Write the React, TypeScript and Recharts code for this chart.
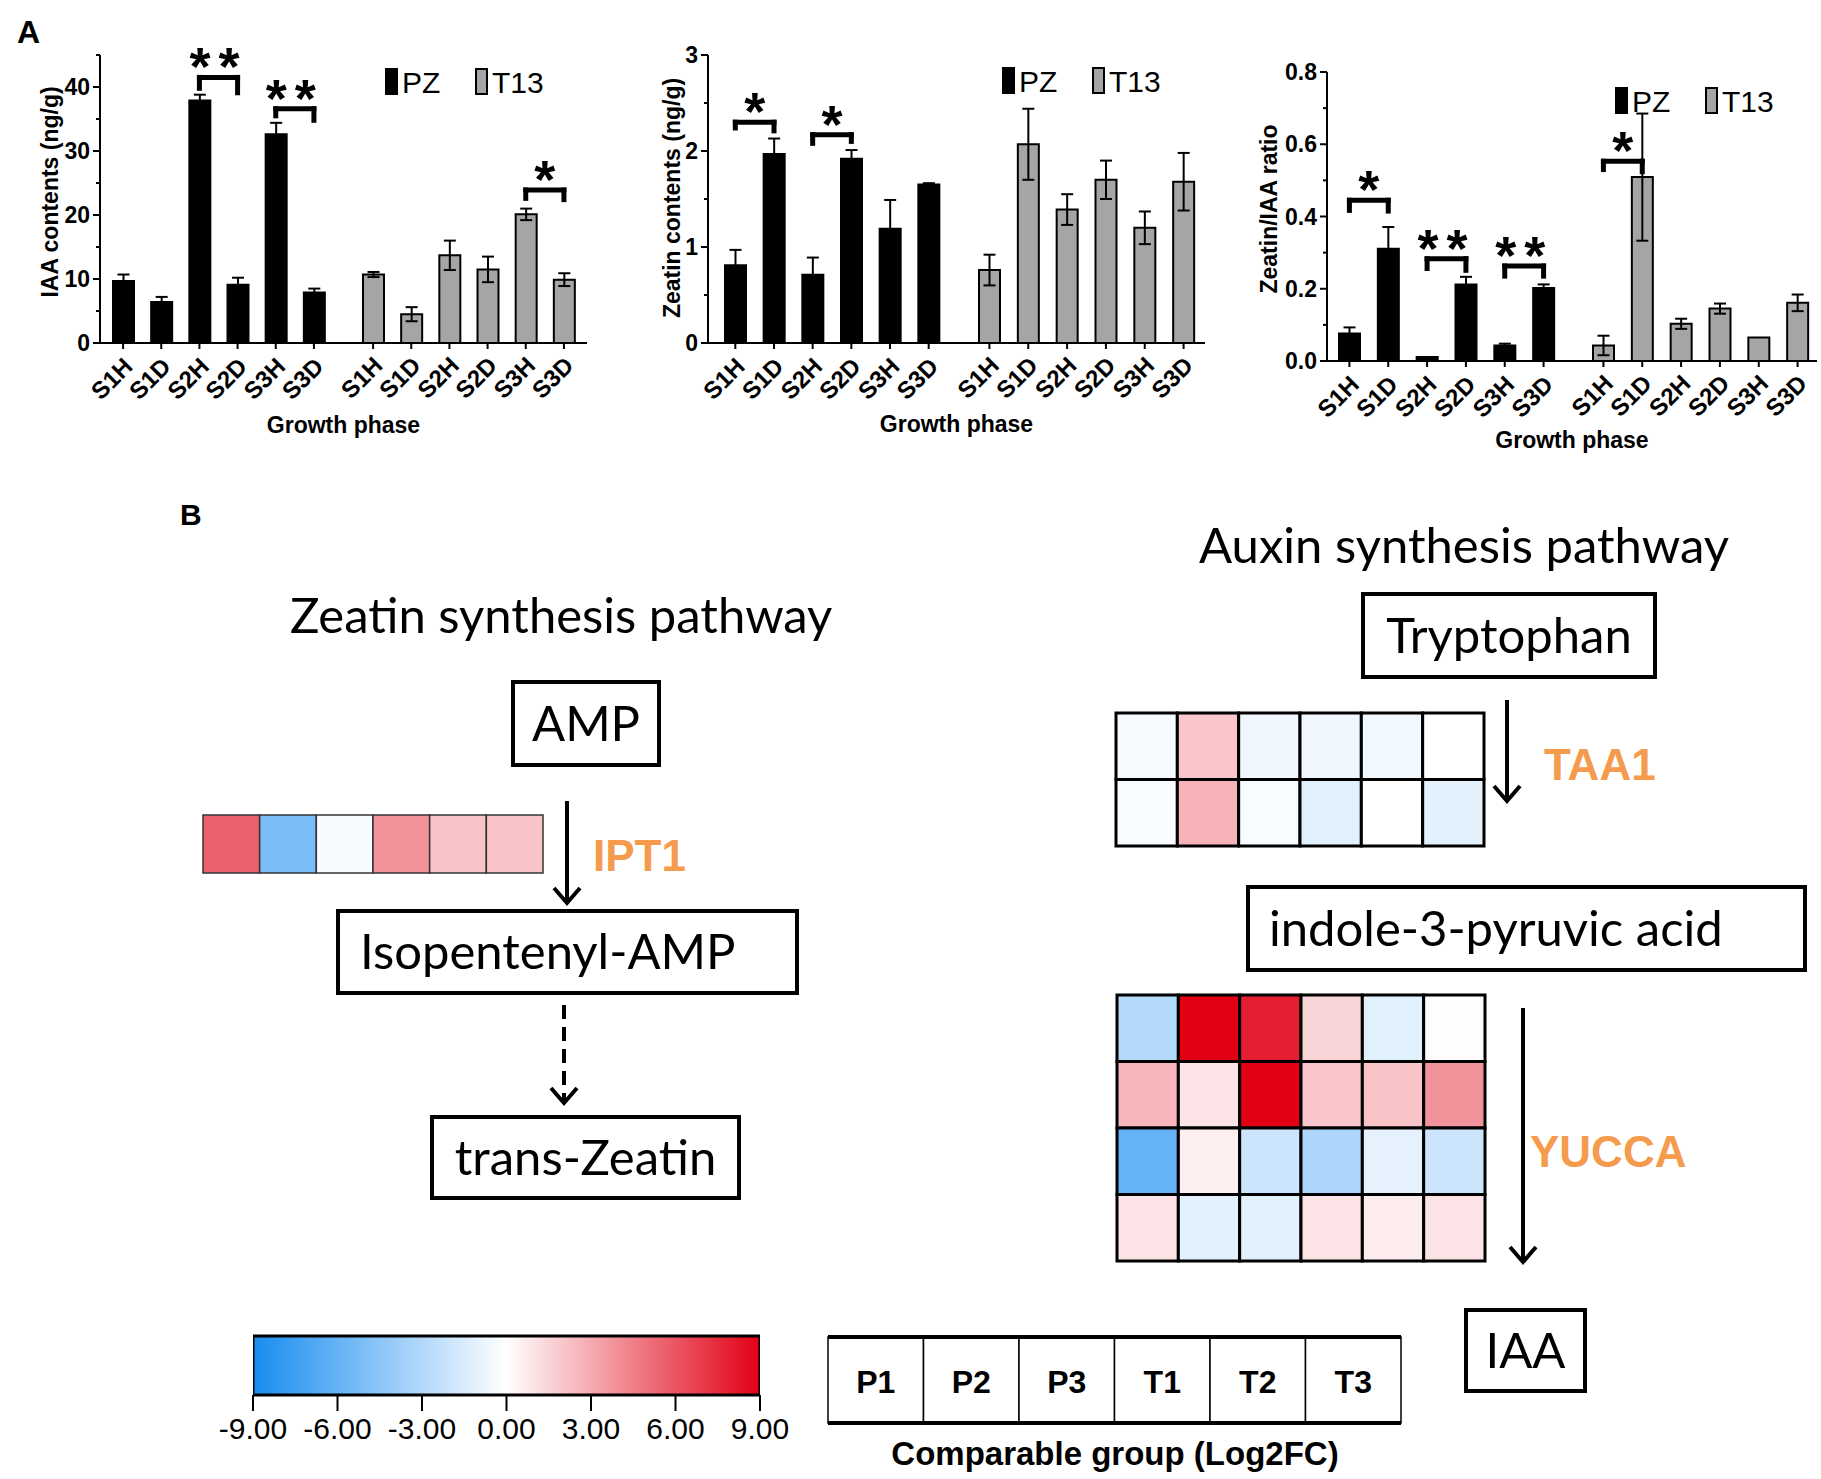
import React from 'react';
import {
  BarChart, Bar, XAxis, YAxis, ErrorBar, ReferenceLine, Legend,
  ScatterChart, Scatter,
} from 'recharts';

const FONT = "'Liberation Sans', Arial, Helvetica, sans-serif";
const PATH_FONT = "Lato, 'Open Sans', 'Noto Sans', sans-serif";
const GRAY = '#a5a5a7';
const ORANGE = '#f59b4d';

// panel A data
const stages = ['S1H', 'S1D', 'S2H', 'S2D', 'S3H', 'S3D'];

const iaaPZ = [9.7, 6.4, 37.9, 9.1, 32.6, 7.9];
const iaaPZErr = [1.0, 0.8, 0.9, 1.1, 1.8, 0.6];
const iaaT13 = [10.7, 4.5, 13.7, 11.5, 20.1, 9.9];
const iaaT13Err = [0.4, 1.1, 2.3, 2.0, 0.9, 1.0];

const zeaPZ = [0.81, 1.97, 0.71, 1.92, 1.19, 1.65];
const zeaPZErr = [0.16, 0.16, 0.18, 0.09, 0.3, 0.015];
const zeaT13 = [0.76, 2.07, 1.39, 1.7, 1.2, 1.68];
const zeaT13Err = [0.16, 0.37, 0.16, 0.2, 0.17, 0.3];

const ratioPZ = [0.076, 0.311, 0.011, 0.212, 0.043, 0.202];
const ratioPZErr = [0.017, 0.06, 0, 0.021, 0.005, 0.01];
const ratioT13 = [0.043, 0.509, 0.103, 0.145, 0.065, 0.161];
const ratioT13Err = [0.027, 0.176, 0.014, 0.014, 0, 0.023];

const iaaTicks = [0, 5, 10, 15, 20, 25, 30, 35, 40, 45];
const zeaTicks = [0, 0.5, 1, 1.5, 2, 2.5, 3];
const ratioTicks = [0, 0.1, 0.2, 0.3, 0.4, 0.5, 0.6, 0.7, 0.8];

type Bracket = { group: string; from: string; to: string; y: number; yl: number; yr: number; mark: string };

const iaaBrackets: Bracket[] = [
  { group: 'pz', from: 'S2H', to: 'S2D', y: 41.5, yl: 39.8, yr: 39.1, mark: '**' },
  { group: 'pz', from: 'S3H', to: 'S3D', y: 36.6, yl: 35.5, yr: 34.8, mark: '**' },
  { group: 't13', from: 'S3H', to: 'S3D', y: 23.9, yl: 22.6, yr: 22.4, mark: '*' },
];
const zeaBrackets: Bracket[] = [
  { group: 'pz', from: 'S1H', to: 'S1D', y: 2.3, yl: 2.24, yr: 2.21, mark: '*' },
  { group: 'pz', from: 'S2H', to: 'S2D', y: 2.17, yl: 2.08, yr: 2.1, mark: '*' },
];
const ratioBrackets: Bracket[] = [
  { group: 'pz', from: 'S1H', to: 'S1D', y: 0.445, yl: 0.417, yr: 0.415, mark: '*' },
  { group: 'pz', from: 'S2H', to: 'S2D', y: 0.283, yl: 0.256, yr: 0.251, mark: '**' },
  { group: 'pz', from: 'S3H', to: 'S3D', y: 0.263, yl: 0.235, yr: 0.235, mark: '**' },
  { group: 't13', from: 'S1H', to: 'S1D', y: 0.553, yl: 0.53, yr: 0.524, mark: '*' },
];

// panel B data (log2FC)
const groups = ['P1', 'P2', 'P3', 'T1', 'T2', 'T3'];
const ipt1 = [[5.6, -5.2, -0.3, 3.8, 2.1, 2.1]];
const taa1 = [
  [-0.4, 2.0, -0.6, -0.6, -0.5, 0],
  [-0.25, 2.7, -0.25, -1.2, 0, -1.1],
];
const yucca = [
  [-3.0, 9.0, 7.9, 1.5, -1.2, 0.1],
  [2.6, 1.0, 9.0, 2.0, 2.1, 3.8],
  [-6.0, 0.6, -2.0, -3.2, -1.0, -2.0],
  [1.0, -1.1, -1.1, 0.95, 0.65, 0.95],
];
const colorTicks = [-9, -6, -3, 0, 3, 6, 9];

const BLUE = [24, 140, 240];
const RED = [225, 0, 20];
const heatColor = (v: number) => {
  const t = Math.min(Math.abs(v) / 9, 1);
  const c = v < 0 ? BLUE : RED;
  const ch = c.map((k) => Math.round(255 + (k - 255) * t));
  return `rgb(${ch[0]},${ch[1]},${ch[2]})`;
};

const YTick = (props: any) => {
  const { y, payload, axisX, isMajor, fmt } = props;
  const major = isMajor(payload.value);
  return (
    <g>
      <line x1={axisX - (major ? 7 : 4)} x2={axisX} y1={y} y2={y} stroke="#000" strokeWidth={2} />
      {major && (
        <text x={axisX - 10} y={y} dy={8} textAnchor="end" fontFamily={FONT} fontSize={23} fontWeight={700} fill="#000">
          {fmt(payload.value)}
        </text>
      )}
    </g>
  );
};

const XTick = (props: any) => {
  const { x, y, payload, shift = 0 } = props;
  const tx = x + 11;
  const ty = y + 17 + shift;
  return (
    <text x={tx} y={ty} transform={`rotate(-45 ${tx} ${ty})`} textAnchor="end" fontFamily={FONT} fontSize={24} fontWeight={700} fill="#000">
      {payload.value}
    </text>
  );
};

const renderLegend = (props: any) => (
  <div style={{ position: 'relative', width: 200, height: 30 }}>
    {(props.payload || []).map((e: any, i: number) => (
      <div key={e.value} style={{ position: 'absolute', left: i * 90, top: 0, display: 'flex', alignItems: 'flex-start' }}>
        <div style={{ width: 13, height: 27, background: e.color, border: '2px solid #000', boxSizing: 'border-box' }} />
        <span style={{ marginLeft: 4, fontFamily: FONT, fontSize: 30, lineHeight: '30px', color: '#000' }}>{e.value}</span>
      </div>
    ))}
  </div>
);

type ChartProps = {
  left: number; top: number; width: number; height: number;
  margin: { top: number; right: number; bottom: number; left: number };
  yWidth: number; domain: [number, number]; ticks: number[];
  isMajor: (v: number) => boolean; fmt: (v: number) => string;
  pz: number[]; pzErr: number[]; t13: number[]; t13Err: number[];
  pzPad: [number, number]; t13Pad: [number, number];
  brackets: Bracket[]; yLabel: string; yLabelAt: [number, number];
  legendAt: [number, number]; xLabelOffset: number;
};

const HormoneChart = (p: ChartProps) => {
  const data = stages.map((s, i) => ({ stage: s, pz: p.pz[i], pzErr: p.pzErr[i], t13: p.t13[i], t13Err: p.t13Err[i] }));
  const axisLine = { stroke: '#000', strokeWidth: 2 };
  const starLabel = (mark: string) => ({
    value: mark, position: 'top', offset: -8, fontFamily: FONT, fontSize: 54, fontWeight: 700, fill: '#000',
    letterSpacing: mark.length > 1 ? 8 : 0,
  });
  return (
    <div style={{ position: 'absolute', left: p.left, top: p.top }}>
      <BarChart width={p.width} height={p.height} data={data} margin={p.margin}>
        <XAxis xAxisId="pz" dataKey="stage" type="category" height={1} interval={0}
          padding={{ left: p.pzPad[0], right: p.pzPad[1] }} axisLine={axisLine}
          tickLine={{ stroke: '#000', strokeWidth: 2 }} tickSize={6} tick={<XTick />} />
        <XAxis xAxisId="t13" dataKey="stage" type="category" height={1} interval={0}
          padding={{ left: p.t13Pad[0], right: p.t13Pad[1] }} axisLine={false}
          tickLine={{ stroke: '#000', strokeWidth: 2 }} tickSize={5} tick={<XTick shift={-1} />}
          label={{ value: 'Growth phase', position: 'bottom', offset: p.xLabelOffset, fontFamily: FONT, fontSize: 23, fontWeight: 700, fill: '#000' }} />
        <YAxis width={p.yWidth} domain={p.domain} ticks={p.ticks} interval={0} tickLine={false} axisLine={axisLine}
          allowDataOverflow
          tick={(tp: any) => <YTick {...tp} axisX={p.margin.left + p.yWidth} isMajor={p.isMajor} fmt={p.fmt} />}
          label={() => (
            <text x={p.yLabelAt[0]} y={p.yLabelAt[1]} transform={`rotate(-90 ${p.yLabelAt[0]} ${p.yLabelAt[1]})`}
              textAnchor="middle" dy={8} fontFamily={FONT} fontSize={23} fontWeight={700} fill="#000">
              {p.yLabel}
            </text>
          )} />
        <Legend layout="vertical" align="center" verticalAlign="middle" content={renderLegend}
          wrapperStyle={{ left: p.legendAt[0], top: p.legendAt[1], width: 200 }} />
        <Bar xAxisId="pz" dataKey="pz" name="PZ" fill="#000" stroke="#000" strokeWidth={2} barSize={21} isAnimationActive={false}>
          <ErrorBar dataKey="pzErr" width={6} stroke="#000" strokeWidth={2} />
        </Bar>
        <Bar xAxisId="t13" dataKey="t13" name="T13" fill={GRAY} stroke="#000" strokeWidth={2} barSize={21} isAnimationActive={false}>
          <ErrorBar dataKey="t13Err" width={6} stroke="#000" strokeWidth={2} />
        </Bar>
        {p.brackets.map((b, i) => [
          <ReferenceLine key={`h${i}`} xAxisId={b.group} segment={[{ x: b.from, y: b.y }, { x: b.to, y: b.y }]}
            stroke="#000" strokeWidth={5} strokeLinecap="square" label={starLabel(b.mark) as any} />,
          <ReferenceLine key={`l${i}`} xAxisId={b.group} segment={[{ x: b.from, y: b.y }, { x: b.from, y: b.yl }]}
            stroke="#000" strokeWidth={5} strokeLinecap="square" />,
          <ReferenceLine key={`r${i}`} xAxisId={b.group} segment={[{ x: b.to, y: b.y }, { x: b.to, y: b.yr }]}
            stroke="#000" strokeWidth={5} strokeLinecap="square" />,
        ])}
      </BarChart>
    </div>
  );
};

type HeatProps = { left: number; top: number; width: number; height: number; values: number[][]; stroke: string; strokeWidth: number };

const HeatMap = ({ left, top, width, height, values, stroke, strokeWidth }: HeatProps) => {
  const rows = values.map((_, i) => `r${i}`);
  const data = values.flatMap((r, i) => r.map((v, j) => ({ col: groups[j], row: rows[i], v })));
  const cw = width / groups.length;
  const ch = height / rows.length;
  const pad = 3;
  return (
    <div style={{ position: 'absolute', left: left - pad, top: top - pad }}>
      <ScatterChart width={width + 2 * pad} height={height + 2 * pad} margin={{ top: pad, right: pad, bottom: pad, left: pad }}>
        <XAxis type="category" dataKey="col" hide allowDuplicatedCategory={false} />
        <YAxis type="category" dataKey="row" hide allowDuplicatedCategory={false} reversed />
        <Scatter data={data} isAnimationActive={false}
          shape={(sp: any) => (
            <rect x={sp.cx - cw / 2} y={sp.cy - ch / 2} width={cw} height={ch}
              fill={heatColor(sp.payload.v)} stroke={stroke} strokeWidth={strokeWidth} />
          )} />
      </ScatterChart>
    </div>
  );
};

const colorRange = [{ k: 'log2FC', range: [colorTicks[0], colorTicks[colorTicks.length - 1]] }];

const ColorBar = () => (
  <div style={{ position: 'absolute', left: 203, top: 1332 }}>
    <BarChart layout="vertical" width={607} height={123} data={colorRange} barCategoryGap={0}
      margin={{ top: 4, right: 50, bottom: 0, left: 50 }}>
      <XAxis type="number" domain={[-9, 9]} ticks={colorTicks} interval={0} height={60} allowDataOverflow
        axisLine={false} tickSize={16} tickMargin={7} tickLine={{ stroke: '#000', strokeWidth: 2 }}
        tickFormatter={(v: number) => v.toFixed(2)} tick={{ fontSize: 30, fill: '#000', fontFamily: FONT }} />
      <YAxis type="category" dataKey="k" hide />
      <Bar dataKey="range" fill="url(#cbar)" stroke="#000" strokeWidth={3} isAnimationActive={false} />
    </BarChart>
  </div>
);

const boxes = [
  { label: 'AMP', x: 511, y: 680, w: 150, h: 87, pad: 0 },
  { label: 'Isopentenyl-AMP', x: 336, y: 909, w: 463, h: 86, pad: 24 },
  { label: 'trans-Zeatin', x: 430, y: 1115, w: 311, h: 85, pad: 0 },
  { label: 'Tryptophan', x: 1361, y: 592, w: 296, h: 87, pad: 0 },
  { label: 'indole-3-pyruvic acid', x: 1246, y: 885, w: 561, h: 87, pad: 23 },
  { label: 'IAA', x: 1464, y: 1308, w: 123, h: 85, pad: 0 },
];

const Arrow = ({ x, y1, y2, dashed }: { x: number; y1: number; y2: number; dashed?: boolean }) => (
  <g stroke="#000" strokeWidth={4} fill="none">
    <line x1={x} x2={x} y1={y1} y2={y2 - 2} strokeDasharray={dashed ? '14 8' : undefined} />
    <polyline points={`${x - 13},${y2 - 15} ${x},${y2} ${x + 13},${y2 - 15}`} />
  </g>
);

const CELL = 95.5;

const Overlay = () => (
  <svg width={1821} height={1479} style={{ position: 'absolute', left: 0, top: 0 }}>
    <defs>
      <linearGradient id="cbar" x1="0" x2="1" y1="0" y2="0">
        <stop offset="0%" stopColor={heatColor(-9)} />
        <stop offset="50%" stopColor="#ffffff" />
        <stop offset="100%" stopColor={heatColor(9)} />
      </linearGradient>
    </defs>
    <text x={17} y={43} fontFamily={FONT} fontWeight={700} fontSize={32}>A</text>
    <text x={180} y={525} fontFamily={FONT} fontWeight={700} fontSize={30}>B</text>
    <text x={290} y={633} fontFamily={PATH_FONT} fontSize={49} fill="#000">Zeatin synthesis pathway</text>
    <text x={1199} y={563} fontFamily={PATH_FONT} fontSize={49} fill="#000">Auxin synthesis pathway</text>
    {boxes.map((b) => (
      <g key={b.label}>
        <rect x={b.x + 2} y={b.y + 2} width={b.w - 4} height={b.h - 4} fill="none" stroke="#000" strokeWidth={4} />
        <text x={b.pad ? b.x + b.pad : b.x + b.w / 2} y={b.y + b.h / 2 + 17} textAnchor={b.pad ? 'start' : 'middle'}
          fontFamily={PATH_FONT} fontSize={49} fill="#000">{b.label}</text>
      </g>
    ))}
    <Arrow x={567} y1={801} y2={903} />
    <Arrow x={564} y1={1005} y2={1103} dashed />
    <Arrow x={1507} y1={700} y2={801} />
    <Arrow x={1523} y1={1008} y2={1262} />
    <text x={593} y={871} fontFamily={FONT} fontWeight={700} fontSize={44} fill={ORANGE}>IPT1</text>
    <text x={1544} y={780} fontFamily={FONT} fontWeight={700} fontSize={44} fill={ORANGE}>TAA1</text>
    <text x={1530} y={1167} fontFamily={FONT} fontWeight={700} fontSize={44} fill={ORANGE}>YUCCA</text>
    <g>
      {groups.map((g, i) => (
        <g key={g}>
          <rect x={828 + i * CELL} y={1337} width={CELL} height={86} fill="#fff" stroke="#000" strokeWidth={1.5} />
          <text x={828 + i * CELL + CELL / 2} y={1393} textAnchor="middle" fontFamily={FONT} fontWeight={700} fontSize={32}>{g}</text>
        </g>
      ))}
      <line x1={828} x2={828 + 6 * CELL} y1={1337} y2={1337} stroke="#000" strokeWidth={4} />
      <line x1={828} x2={828 + 6 * CELL} y1={1423} y2={1423} stroke="#000" strokeWidth={4} />
    </g>
    <text x={1115} y={1465} textAnchor="middle" fontFamily={FONT} fontWeight={700} fontSize={33}>Comparable group (Log2FC)</text>
  </svg>
);

export default function App() {
  return (
    <div style={{ position: 'absolute', left: 0, top: 0, width: 1821, height: 1479, background: '#fff', overflow: 'hidden' }}>
      <Overlay />
      <HormoneChart left={0} top={0} width={600} height={450} margin={{ top: 55, right: 13, bottom: 105, left: 0 }}
        yWidth={100} domain={[0, 45]} ticks={iaaTicks} isMajor={(v) => v % 10 === 0} fmt={(v) => String(v)}
        pz={iaaPZ} pzErr={iaaPZErr} t13={iaaT13} t13Err={iaaT13Err} pzPad={[4, 254]} t13Pad={[254, 4]}
        brackets={iaaBrackets} yLabel="IAA contents (ng/g)" yLabelAt={[50, 192]} legendAt={[385, 68]} xLabelOffset={72} />
      <HormoneChart left={610} top={0} width={610} height={450} margin={{ top: 55, right: 15, bottom: 105, left: 0 }}
        yWidth={98} domain={[0, 3]} ticks={zeaTicks} isMajor={(v) => Number.isInteger(v)} fmt={(v) => String(v)}
        pz={zeaPZ} pzErr={zeaPZErr} t13={zeaT13} t13Err={zeaT13Err} pzPad={[8, 257]} t13Pad={[262, 2]}
        brackets={zeaBrackets} yLabel="Zeatin contents (ng/g)" yLabelAt={[62, 198]} legendAt={[392, 67]} xLabelOffset={71} />
      <HormoneChart left={1225} top={0} width={596} height={470} margin={{ top: 72, right: 4, bottom: 107, left: 0 }}
        yWidth={102} domain={[0, 0.8]} ticks={ratioTicks} isMajor={(v) => Math.round(v * 10) % 2 === 0} fmt={(v) => v.toFixed(1)}
        pz={ratioPZ} pzErr={ratioPZErr} t13={ratioT13} t13Err={ratioT13Err} pzPad={[3, 254]} t13Pad={[257, 0]}
        brackets={ratioBrackets} yLabel="Zeatin/IAA ratio" yLabelAt={[44, 209]} legendAt={[390, 87]} xLabelOffset={69} />
      <HeatMap left={203} top={815} width={340} height={58} values={ipt1} stroke="#333" strokeWidth={1.5} />
      <HeatMap left={1116} top={713} width={368} height={133} values={taa1} stroke="#000" strokeWidth={3} />
      <HeatMap left={1117} top={995} width={368} height={266} values={yucca} stroke="#000" strokeWidth={3} />
      <ColorBar />
    </div>
  );
}
